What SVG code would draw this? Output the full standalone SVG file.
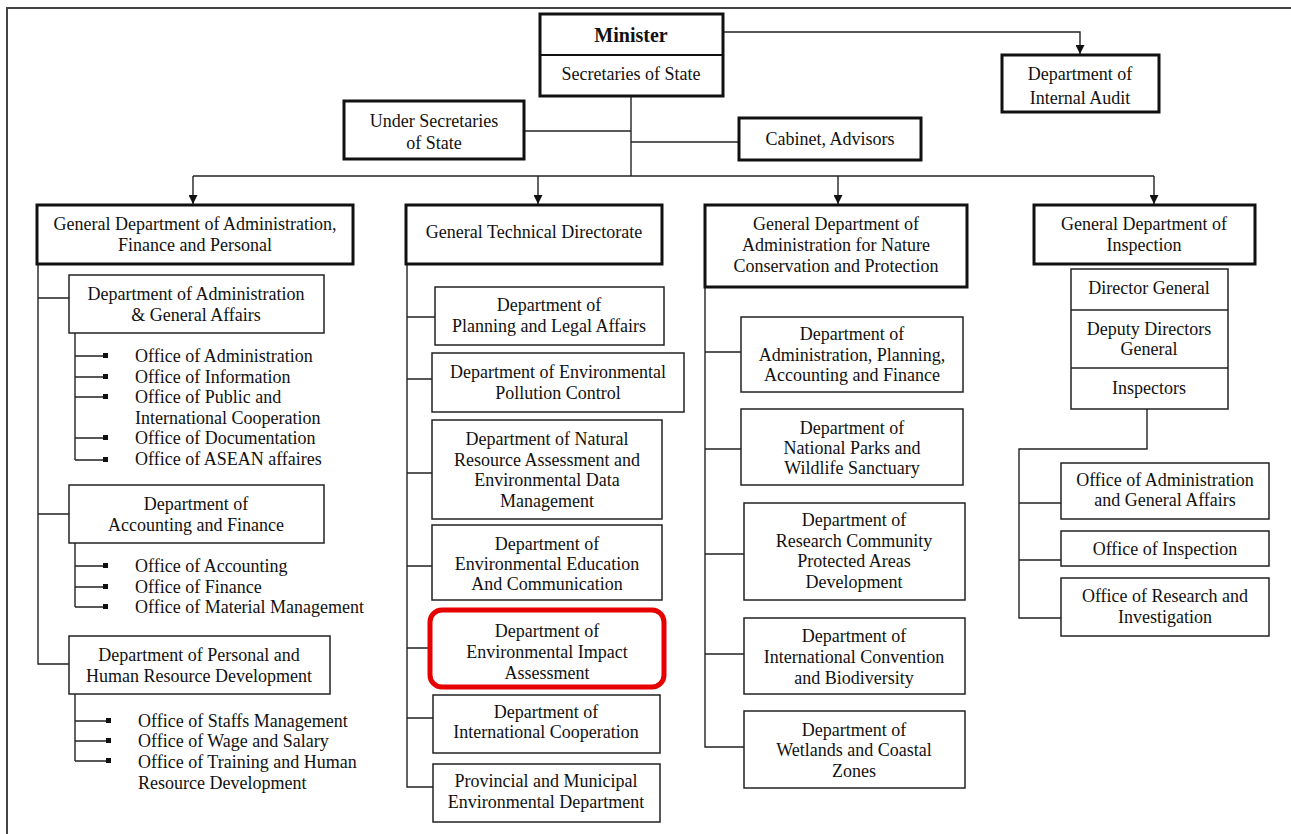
<svg xmlns="http://www.w3.org/2000/svg" width="1291" height="834" viewBox="0 0 1291 834">
<defs>
<marker id="arr" viewBox="0 0 10 10" refX="10" refY="5" markerWidth="9" markerHeight="9" markerUnits="userSpaceOnUse" orient="auto">
<path d="M0,0 L10,5 L0,10 z" fill="#111"/>
</marker>
<style>
text{font-family:"Liberation Serif","Times New Roman",serif;font-size:18px;fill:#111;text-anchor:middle}
.l{text-anchor:start}
.b{font-weight:bold;font-size:20px}
.thick{fill:#fff;stroke:#111;stroke-width:3}
.thin{fill:#fff;stroke:#222;stroke-width:1.5}
.red{fill:#fff;stroke:#e60000;stroke-width:5}
.c{fill:none;stroke:#222;stroke-width:1.4}
.frame{fill:none;stroke:#444;stroke-width:2}
.bul{fill:#111}
</style>
</defs>
<rect width="1291" height="834" fill="#fff"/>
<path class="frame" d="M7,834 V8 H1291"/>

<g id="connectors">
<path class="c" d="M723,32 H1080 V54" marker-end="url(#arr)"/>
<path class="c" d="M631,96 V176"/>
<path class="c" d="M524,131 H631"/>
<path class="c" d="M631,142 H739"/>
<path class="c" d="M193,176 H1154"/>
<path class="c" d="M193,176 V204" marker-end="url(#arr)"/>
<path class="c" d="M538,176 V204" marker-end="url(#arr)"/>
<path class="c" d="M838,176 V204" marker-end="url(#arr)"/>
<path class="c" d="M1154,176 V204" marker-end="url(#arr)"/>
<path class="c" d="M38,264 V664 H69 M38,298 H69 M38,514 H69"/>
<path class="c" d="M75,333 V460 M75,356 H103 M75,377 H103 M75,397 H103 M75,438 H103 M75,460 H103"/>
<path class="c" d="M75,543 V607 M75,566 H103 M75,587 H103 M75,607 H103"/>
<path class="c" d="M75,694 V761 M75,721 H106 M75,741 H106 M75,761 H106"/>
<path class="c" d="M407,264 V787 H433 M407,317 H435 M407,379 H432 M407,473 H432 M407,566 H432 M407,648 H429 M407,718 H433"/>
<path class="c" d="M705,287 V747 H744 M705,352 H741 M705,449 H741 M705,554 H744 M705,654 H744"/>
<path class="c" d="M1147,409 V449 H1019 V618 H1061 M1019,503 H1061 M1019,560 H1061"/>
</g>

<g id="bullets">
<rect class="bul" x="103" y="353" width="5" height="5"/>
<rect class="bul" x="103" y="374" width="5" height="5"/>
<rect class="bul" x="103" y="394" width="5" height="5"/>
<rect class="bul" x="103" y="435" width="5" height="5"/>
<rect class="bul" x="103" y="457" width="5" height="5"/>
<rect class="bul" x="103" y="563" width="5" height="5"/>
<rect class="bul" x="103" y="584" width="5" height="5"/>
<rect class="bul" x="103" y="604" width="5" height="5"/>
<rect class="bul" x="106" y="718" width="5" height="5"/>
<rect class="bul" x="106" y="738" width="5" height="5"/>
<rect class="bul" x="106" y="758" width="5" height="5"/>
</g>

<g id="minister">
<rect class="thick" x="540" y="14" width="183" height="82"/>
<line x1="540" y1="55" x2="723" y2="55" stroke="#111" stroke-width="2"/>
<text class="b" x="631" y="42">Minister</text>
<text x="631" y="80">Secretaries of State</text>
</g>
<g id="internal-audit">
<rect class="thick" x="1002" y="55" width="157" height="57"/>
<text x="1080" y="80">Department of</text>
<text x="1080" y="104">Internal Audit</text>
</g>
<g id="under-secretaries">
<rect class="thick" x="344" y="101" width="180" height="58"/>
<text x="434" y="127">Under Secretaries</text>
<text x="434" y="149">of State</text>
</g>
<g id="cabinet">
<rect class="thick" x="739" y="118" width="182" height="42"/>
<text x="830" y="145">Cabinet, Advisors</text>
</g>

<g id="gd-admin">
<rect class="thick" x="37" y="205" width="316" height="59"/>
<text x="195" y="230">General Department of Administration,</text>
<text x="195" y="251">Finance and Personal</text>
</g>
<g id="dept-admin-ga">
<rect class="thin" x="69" y="275" width="255" height="58"/>
<text x="196" y="300">Department of Administration</text>
<text x="196" y="321">&amp; General Affairs</text>
</g>
<g id="offices-admin">
<text class="l" x="135" y="362">Office of Administration</text>
<text class="l" x="135" y="383">Office of Information</text>
<text class="l" x="135" y="403">Office of Public and</text>
<text class="l" x="135" y="424">International Cooperation</text>
<text class="l" x="135" y="444">Office of Documentation</text>
<text class="l" x="135" y="465">Office of ASEAN affaires</text>
</g>
<g id="dept-accounting">
<rect class="thin" x="69" y="485" width="255" height="58"/>
<text x="196" y="510">Department of</text>
<text x="196" y="531">Accounting and Finance</text>
</g>
<g id="offices-accounting">
<text class="l" x="135" y="572">Office of Accounting</text>
<text class="l" x="135" y="593">Office of Finance</text>
<text class="l" x="135" y="613">Office of Material Management</text>
</g>
<g id="dept-personal">
<rect class="thin" x="69" y="636" width="261" height="58"/>
<text x="199" y="661">Department of Personal and</text>
<text x="199" y="682">Human Resource Development</text>
</g>
<g id="offices-personal">
<text class="l" x="138" y="727">Office of Staffs Management</text>
<text class="l" x="138" y="747">Office of Wage and Salary</text>
<text class="l" x="138" y="768">Office of Training and Human</text>
<text class="l" x="138" y="789">Resource Development</text>
</g>

<g id="gd-technical">
<rect class="thick" x="406" y="205" width="256" height="59"/>
<text x="534" y="238">General Technical Directorate</text>
</g>
<g id="dept-planning">
<rect class="thin" x="435" y="287" width="229" height="58"/>
<text x="549" y="311">Department of</text>
<text x="549" y="332">Planning and Legal Affairs</text>
</g>
<g id="dept-pollution">
<rect class="thin" x="432" y="353" width="252" height="59"/>
<text x="558" y="378">Department of Environmental</text>
<text x="558" y="399">Pollution Control</text>
</g>
<g id="dept-natural">
<rect class="thin" x="432" y="420" width="230" height="99"/>
<text x="547" y="445">Department of Natural</text>
<text x="547" y="466">Resource Assessment and</text>
<text x="547" y="486">Environmental Data</text>
<text x="547" y="507">Management</text>
</g>
<g id="dept-education">
<rect class="thin" x="432" y="525" width="230" height="75"/>
<text x="547" y="550">Department of</text>
<text x="547" y="570">Environmental Education</text>
<text x="547" y="590">And Communication</text>
</g>
<g id="dept-eia">
<rect class="red" x="430" y="610" width="234" height="77" rx="12" ry="12"/>
<text x="547" y="637">Department of</text>
<text x="547" y="658">Environmental Impact</text>
<text x="547" y="679">Assessment</text>
</g>
<g id="dept-intl-coop">
<rect class="thin" x="433" y="695" width="227" height="58"/>
<text x="546" y="718">Department of</text>
<text x="546" y="738">International Cooperation</text>
</g>
<g id="dept-provincial">
<rect class="thin" x="433" y="764" width="227" height="58"/>
<text x="546" y="787">Provincial and Municipal</text>
<text x="546" y="808">Environmental Department</text>
</g>

<g id="gd-nature">
<rect class="thick" x="705" y="205" width="262" height="82"/>
<text x="836" y="230">General Department of</text>
<text x="836" y="251">Administration for Nature</text>
<text x="836" y="272">Conservation and Protection</text>
</g>
<g id="dept-apaf">
<rect class="thin" x="741" y="317" width="222" height="75"/>
<text x="852" y="340">Department of</text>
<text x="852" y="361">Administration, Planning,</text>
<text x="852" y="381">Accounting and Finance</text>
</g>
<g id="dept-parks">
<rect class="thin" x="741" y="409" width="222" height="76"/>
<text x="852" y="434">Department of</text>
<text x="852" y="454">National Parks and</text>
<text x="852" y="474">Wildlife Sanctuary</text>
</g>
<g id="dept-research-community">
<rect class="thin" x="744" y="503" width="221" height="97"/>
<text x="854" y="526">Department of</text>
<text x="854" y="547">Research Community</text>
<text x="854" y="567">Protected Areas</text>
<text x="854" y="588">Development</text>
</g>
<g id="dept-convention">
<rect class="thin" x="744" y="618" width="221" height="76"/>
<text x="854" y="642">Department of</text>
<text x="854" y="663">International Convention</text>
<text x="854" y="684">and Biodiversity</text>
</g>
<g id="dept-wetlands">
<rect class="thin" x="744" y="711" width="221" height="77"/>
<text x="854" y="736">Department of</text>
<text x="854" y="756">Wetlands and Coastal</text>
<text x="854" y="777">Zones</text>
</g>

<g id="gd-inspection">
<rect class="thick" x="1034" y="205" width="221" height="59"/>
<text x="1144" y="230">General Department of</text>
<text x="1144" y="251">Inspection</text>
</g>
<g id="inspection-staff">
<rect class="thin" x="1071" y="269" width="157" height="140"/>
<line x1="1071" y1="310" x2="1228" y2="310" stroke="#222" stroke-width="1.5"/>
<line x1="1071" y1="368" x2="1228" y2="368" stroke="#222" stroke-width="1.5"/>
<text x="1149" y="294">Director General</text>
<text x="1149" y="335">Deputy Directors</text>
<text x="1149" y="355">General</text>
<text x="1149" y="394">Inspectors</text>
</g>
<g id="office-admin-ga">
<rect class="thin" x="1061" y="463" width="208" height="56"/>
<text x="1165" y="486">Office of Administration</text>
<text x="1165" y="506">and General Affairs</text>
</g>
<g id="office-inspection">
<rect class="thin" x="1061" y="531" width="208" height="35"/>
<text x="1165" y="555">Office of Inspection</text>
</g>
<g id="office-research">
<rect class="thin" x="1061" y="578" width="208" height="58"/>
<text x="1165" y="602">Office of Research and</text>
<text x="1165" y="623">Investigation</text>
</g>
</svg>
